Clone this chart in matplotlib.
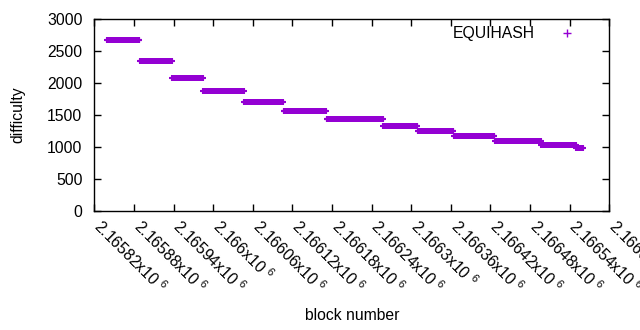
import matplotlib
matplotlib.use("Agg")
import matplotlib.pyplot as plt
import matplotlib.transforms as mtransforms
import numpy as np

plt.rcParams["font.family"] = ["Liberation Sans", "DejaVu Sans"]
plt.rcParams["font.size"] = 11.3
plt.rcParams["mathtext.fontset"] = "custom"
plt.rcParams["mathtext.rm"] = "Liberation Sans"
plt.rcParams["mathtext.it"] = "Liberation Sans:italic"

# difficulty plateaus (first block, last block, difficulty)
plateau_first = [2165839, 2165889, 2165938, 2165985, 2166047, 2166107, 2166172,
                 2166258, 2166310, 2166365, 2166427, 2166497, 2166550]
plateau_last = [2165888, 2165937, 2165984, 2166046, 2166106, 2166171, 2166257,
                2166309, 2166364, 2166426, 2166496, 2166549, 2166560]
difficulty = [2667, 2339, 2073, 1870, 1698, 1558, 1433,
              1323, 1245, 1167, 1089, 1027, 980]

x_ticks = list(range(2165820, 2166601, 60))
y_ticks = [0, 500, 1000, 1500, 2000, 2500, 3000]

# one point per block
blocks = np.concatenate([np.arange(a, b + 1) for a, b in zip(plateau_first, plateau_last)])
values = np.concatenate([np.full(b - a + 1, d) for a, b, d in zip(plateau_first, plateau_last, difficulty)])

purple = "#9400d3"
fs = 11.3

fig = plt.figure(figsize=(6.4, 3.3), dpi=100)
ax = fig.add_axes([94.3 / 640, 1 - 211 / 330, (609.3 - 94.3) / 640, (211 - 19) / 330])

ax.plot(blocks, values, linestyle="none", marker="+", color=purple,
        markersize=5, markeredgewidth=1.5, label="EQUIHASH")

ax.set_xlim(2165820, 2166600)
ax.set_ylim(0, 3000)
ax.set_xticks(x_ticks)
ax.set_xticklabels([f"{v / 1e6:g}x10 $^{{6}}$" for v in x_ticks])
ax.set_yticks(y_ticks)

ax.tick_params(direction="in", length=5, width=1, top=True, right=True,
               labelsize=fs, colors="black")
ax.tick_params(axis="x", pad=8.5)
ax.tick_params(axis="y", pad=8.5)
shift = mtransforms.ScaledTranslation(2.7 / 100, 0, fig.dpi_scale_trans)
for lbl in ax.get_xticklabels():
    lbl.set_rotation(-45)
    lbl.set_ha("left")
    lbl.set_va("center")
    lbl.set_rotation_mode("anchor")
    lbl.set_transform(lbl.get_transform() + shift)

for sp in ax.spines.values():
    sp.set_linewidth(1)

ax.set_xlabel("block number", fontsize=fs)
ax.xaxis.set_label_coords(0.5, (308 - 211) / -192.0)
ax.set_ylabel("difficulty", fontsize=fs)
ax.yaxis.set_label_coords((25 - 94.3) / 515, 0.5)

leg = ax.legend(loc="upper right", bbox_to_anchor=(0.9675, 1.037), frameon=False,
                markerfirst=False, handlelength=1.5, handletextpad=1.28,
                fontsize=fs, markerscale=1.2)
leg.legend_handles[0].set_markeredgewidth(1.0)

fig.savefig("out.png", dpi=100)
